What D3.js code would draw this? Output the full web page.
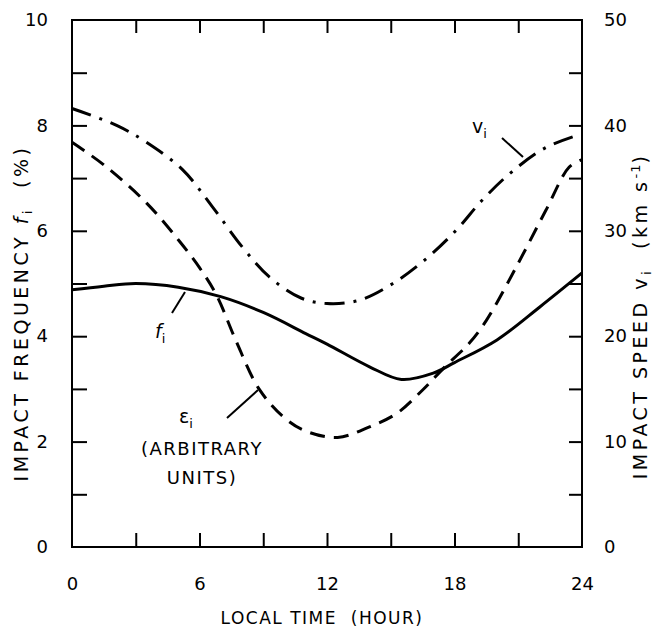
<!DOCTYPE html>
<html>
<head>
<meta charset="utf-8">
<script src="https://cdn.jsdelivr.net/npm/d3@7"></script>
<style>
  body { margin: 0; background: #fff; }
  svg text { font-family: "DejaVu Sans", sans-serif; fill: #000; }
</style>
</head>
<body>
<div id="chart"></div>
<script>
// impact frequency f_i (%), solid
var fHours = [0, 1.5, 3, 5, 7, 9, 11, 12, 14, 15.5, 17, 18, 20, 22, 24];
var fValues = [4.88, 4.95, 5.0, 4.93, 4.75, 4.45, 4.05, 3.85, 3.42, 3.18, 3.3, 3.5, 3.93, 4.55, 5.2];

// epsilon_i (arbitrary units, left scale), dashed
var eHours = [0, 1.5, 3.5, 5, 6, 6.8, 7.7, 8.8, 10, 11, 12.5, 14, 15.3, 16.5, 17.5, 18.7, 19.5, 20.9, 22.3, 23.4, 24];
var eValues = [7.68, 7.25, 6.53, 5.83, 5.3, 4.78, 3.93, 3.0, 2.45, 2.2, 2.08, 2.28, 2.54, 2.98, 3.4, 3.87, 4.3, 5.31, 6.39, 7.21, 7.35];

// impact speed v_i (km/s, right scale), dash-dot
var vHours = [0, 2.1, 3.5, 5.2, 6.6, 8, 9.3, 10.8, 12, 13.5, 15.1, 16.7, 18.1, 19.3, 20.7, 22.3, 24];
var vValues = [41.6, 40, 38.4, 35.8, 32.3, 28.5, 25.6, 23.6, 23.1, 23.4, 25, 27.4, 30.1, 32.9, 35.6, 37.9, 39.2];

var xTicks = [0, 6, 12, 18, 24];
var leftTicks = [0, 2, 4, 6, 8, 10];
var rightTicks = [0, 10, 20, 30, 40, 50];

var W = 666, H = 627;
var pLeft = 72, pRight = 582, pTop = 20, pBottom = 547;

var svg = d3.select("#chart").append("svg")
    .attr("width", W)
    .attr("height", H);

var x = d3.scaleLinear().domain([0, 24]).range([pLeft, pRight]);
var yL = d3.scaleLinear().domain([0, 10]).range([pBottom, pTop]);
var yR = d3.scaleLinear().domain([0, 50]).range([pBottom, pTop]);

function styleAxis(g, size) {
    g.select(".domain").remove();
    g.selectAll(".tick line").attr("stroke", "#000").attr("stroke-width", 2);
    g.selectAll(".tick text").style("font-size", size + "px")
        .style("font-family", "'DejaVu Sans', sans-serif");
}

// frame
svg.append("rect")
    .attr("x", pLeft).attr("y", pTop)
    .attr("width", pRight - pLeft).attr("height", pBottom - pTop)
    .attr("fill", "none").attr("stroke", "#000").attr("stroke-width", 2);

// bottom axis: ticks inward every 3 hours
var gx = svg.append("g")
    .attr("transform", "translate(0," + pBottom + ")")
    .call(d3.axisBottom(x).tickValues(d3.range(0, 25, 3)).tickSize(-14).tickPadding(30)
        .tickFormat(function(d) { return xTicks.indexOf(d) >= 0 ? d : ""; }));
styleAxis(gx, 18);
gx.selectAll(".tick").filter(function(d) { return d === 0 || d === 24; }).select("line").remove();

// top axis ticks
var gt = svg.append("g")
    .attr("transform", "translate(0," + pTop + ")")
    .call(d3.axisTop(x).tickValues(d3.range(3, 24, 3)).tickSize(-13).tickFormat(""));
styleAxis(gt, 18);

// left axis
var gl = svg.append("g")
    .attr("transform", "translate(" + pLeft + ",0)")
    .call(d3.axisLeft(yL).tickValues(d3.range(0, 11, 1)).tickSize(-15).tickPadding(24)
        .tickFormat(function(d) { return leftTicks.indexOf(d) >= 0 ? d : ""; }));
styleAxis(gl, 18);
gl.selectAll(".tick").filter(function(d) { return d === 0 || d === 10; }).select("line").remove();

// right axis
var gr = svg.append("g")
    .attr("transform", "translate(" + pRight + ",0)")
    .call(d3.axisRight(yR).tickValues(d3.range(0, 51, 5)).tickSize(-13).tickPadding(22)
        .tickFormat(function(d) { return rightTicks.indexOf(d) >= 0 ? d : ""; }));
styleAxis(gr, 18);
gr.selectAll(".tick").filter(function(d) { return d === 0 || d === 50; }).select("line").remove();

// curves
var lineL = d3.line()
    .x(function(d) { return x(d[0]); })
    .y(function(d) { return yL(d[1]); })
    .curve(d3.curveCatmullRom.alpha(0.5));
var lineR = d3.line()
    .x(function(d) { return x(d[0]); })
    .y(function(d) { return yR(d[1]); })
    .curve(d3.curveCatmullRom.alpha(0.5));

svg.append("path")
    .datum(d3.zip(fHours, fValues))
    .attr("d", lineL)
    .attr("fill", "none").attr("stroke", "#000").attr("stroke-width", 3);

svg.append("path")
    .datum(d3.zip(eHours, eValues))
    .attr("d", lineL)
    .attr("fill", "none").attr("stroke", "#000").attr("stroke-width", 3)
    .attr("stroke-dasharray", "15,9");

svg.append("path")
    .datum(d3.zip(vHours, vValues))
    .attr("d", lineR)
    .attr("fill", "none").attr("stroke", "#000").attr("stroke-width", 3)
    .attr("stroke-dasharray", "20,9,3,9");

// leader lines
var leaders = [
    [502, 138, 523, 157],
    [172, 313, 185, 292],
    [227, 418, 258, 390]
];
svg.selectAll(".leader").data(leaders).enter().append("line")
    .attr("x1", function(d) { return d[0]; })
    .attr("y1", function(d) { return d[1]; })
    .attr("x2", function(d) { return d[2]; })
    .attr("y2", function(d) { return d[3]; })
    .attr("stroke", "#000").attr("stroke-width", 2);

// curve labels
function label(xp, yp, main, sub, italic) {
    var t = svg.append("text").attr("x", xp).attr("y", yp).style("font-size", "19px");
    t.append("tspan").text(main).style("font-style", italic ? "italic" : "normal");
    t.append("tspan").text(sub).attr("dy", 5).style("font-size", "13px");
}
label(472, 133, "v", "i", false);
label(155, 338, "f", "i", true);
label(179, 423, "\u03b5", "i", false);

svg.append("text").attr("x", 202).attr("y", 455).attr("text-anchor", "middle")
    .style("font-size", "18px").style("letter-spacing", "1.5px").text("(ARBITRARY");
svg.append("text").attr("x", 202).attr("y", 484).attr("text-anchor", "middle")
    .style("font-size", "18px").style("letter-spacing", "1.5px").text("UNITS)");

// axis titles
svg.append("text")
    .attr("x", 322).attr("y", 624).attr("text-anchor", "middle")
    .style("font-size", "17px").style("letter-spacing", "1.5px")
    .attr("xml:space", "preserve")
    .text("LOCAL TIME  (HOUR)");

var lt = svg.append("text")
    .attr("transform", "translate(28,313) rotate(-90)")
    .attr("text-anchor", "middle")
    .style("font-size", "19px").style("letter-spacing", "3.5px")
    .attr("xml:space", "preserve");
lt.append("tspan").text("IMPACT FREQUENCY ");
lt.append("tspan").text("f").style("font-style", "italic");
lt.append("tspan").text("i").attr("dy", 4).style("font-size", "13px");
lt.append("tspan").text("  (%)").attr("dy", -4);

var rt = svg.append("text")
    .attr("transform", "translate(647,316) rotate(-90)")
    .attr("text-anchor", "middle")
    .style("font-size", "19px").style("letter-spacing", "3.5px")
    .attr("xml:space", "preserve");
rt.append("tspan").text("IMPACT SPEED v");
rt.append("tspan").text("i").attr("dy", 4).style("font-size", "13px");
rt.append("tspan").text("  (km s").attr("dy", -4);
rt.append("tspan").text("-1").attr("dy", -7).style("font-size", "13px").style("letter-spacing", "1px");
rt.append("tspan").text(")").attr("dy", 7);
</script>
</body>
</html>
